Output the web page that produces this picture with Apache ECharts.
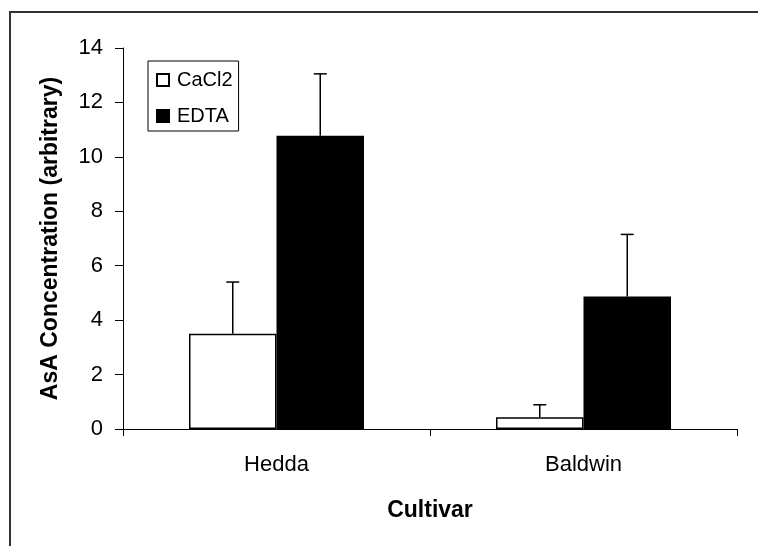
<!DOCTYPE html>
<html>
<head>
<meta charset="utf-8">
<script src="https://cdn.jsdelivr.net/npm/echarts@6/dist/echarts.min.js"></script>
<style>
html, body { margin: 0; padding: 0; background: #fff; }
#chart { width: 758px; height: 546px; }
</style>
</head>
<body>
<div id="chart"></div>
<script>
// 数据
var cultivars = ['Hedda', 'Baldwin'];
var cacl2 = [3.5, 0.43];
var cacl2Err = [5.4, 0.89];   // 误差线顶端
var edta = [10.78, 4.87];
var edtaErr = [13.05, 7.15];

var FONT = '"Liberation Sans", Arial, sans-serif';
var CAT_GAP = 0.43;   // barCategoryGap

// 误差线数据: [类别, 系列, 均值, 上端]
var errData = [];
for (var i = 0; i < cultivars.length; i++) {
    errData.push([i, 0, cacl2[i], cacl2Err[i]]);
    errData.push([i, 1, edta[i], edtaErr[i]]);
}

var myChart = echarts.init(document.getElementById('chart'));

var option = {
    animation: false,
    textStyle: { fontFamily: FONT },
    graphic: [{
        type: 'rect',
        shape: { x: 10, y: 12, width: 780, height: 560 },
        style: { fill: 'none', stroke: '#333', lineWidth: 2 },
        silent: true
    }],
    grid: { left: 123, right: 21, top: 48, bottom: 117 },
    legend: {
        data: ['CaCl2', 'EDTA'],
        orient: 'vertical',
        left: 148,
        top: 61,
        padding: [9, 6, 5, 8],
        icon: 'rect',
        itemWidth: 12,
        itemHeight: 12,
        itemGap: 16,
        borderColor: '#000',
        borderWidth: 1,
        textStyle: { fontSize: 20, color: '#000', fontFamily: FONT, padding: [0, 0, 0, 3] }
    },
    xAxis: {
        type: 'category',
        data: cultivars,
        name: 'Cultivar',
        nameLocation: 'middle',
        nameGap: 70,
        nameTextStyle: { fontSize: 23, fontWeight: 'bold', color: '#000', fontFamily: FONT },
        axisLine: { lineStyle: { color: '#000', width: 1 } },
        axisTick: { show: true, length: 7, lineStyle: { color: '#000' } },
        axisLabel: { fontSize: 22, color: '#000', margin: 25, fontFamily: FONT }
    },
    yAxis: {
        type: 'value',
        min: 0,
        max: 14,
        interval: 2,
        name: 'AsA Concentration (arbitrary)',
        nameLocation: 'middle',
        nameGap: 61,
        nameTextStyle: { fontSize: 23, fontWeight: 'bold', color: '#000', fontFamily: FONT },
        splitLine: { show: false },
        axisLine: { show: true, lineStyle: { color: '#000', width: 1 } },
        axisTick: { show: true, length: 8, lineStyle: { color: '#000' } },
        axisLabel: { fontSize: 22, color: '#000', margin: 20, fontFamily: FONT }
    },
    series: [
        {
            name: 'CaCl2',
            type: 'bar',
            data: cacl2,
            barGap: '0%',
            barCategoryGap: (CAT_GAP * 100) + '%',
            itemStyle: { color: '#fff', borderColor: '#000', borderWidth: 1.5 }
        },
        {
            name: 'EDTA',
            type: 'bar',
            data: edta,
            itemStyle: { color: '#000', borderColor: '#000', borderWidth: 1.5 }
        },
        {
            name: 'err',
            type: 'custom',
            data: errData,
            z: 10,
            renderItem: function (params, api) {
                var cat = api.value(0);
                var s = api.value(1);
                var band = api.size([1, 0])[0];
                var bw = band * (1 - CAT_GAP) / 2;
                var off = (s === 0 ? -1 : 1) * bw / 2;
                var p0 = api.coord([cat, api.value(2)]);
                var p1 = api.coord([cat, api.value(3)]);
                var x = p0[0] + off;
                var cap = 6.5;
                var st = { stroke: '#000', lineWidth: 1.5 };
                return {
                    type: 'group',
                    children: [
                        { type: 'line', shape: { x1: x, y1: p0[1], x2: x, y2: p1[1] }, style: st },
                        { type: 'line', shape: { x1: x - cap, y1: p1[1], x2: x + cap, y2: p1[1] }, style: st }
                    ]
                };
            }
        }
    ]
};

myChart.setOption(option);
</script>
</body>
</html>
